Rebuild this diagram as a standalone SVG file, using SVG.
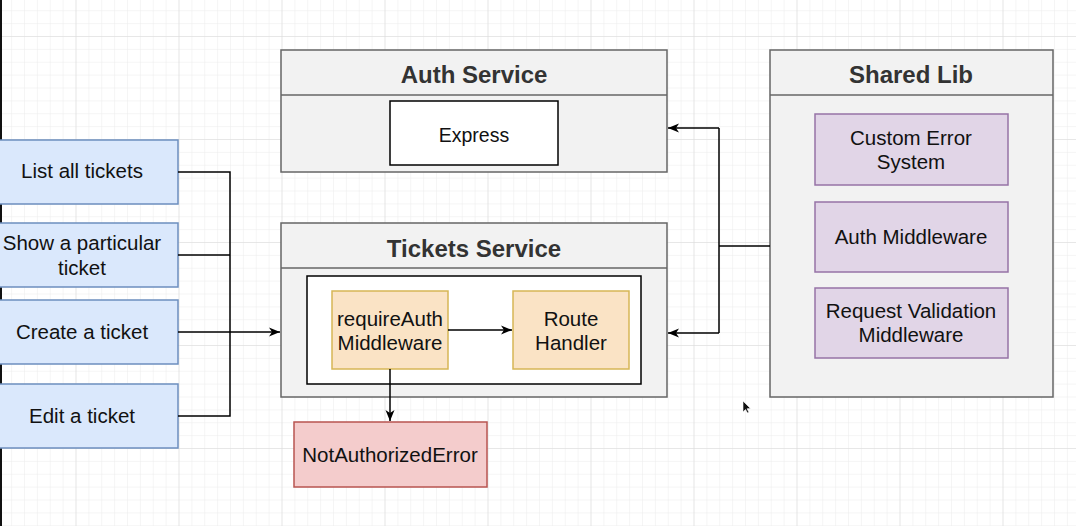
<svg xmlns="http://www.w3.org/2000/svg" width="1076" height="526" viewBox="0 0 1076 526">
<defs>
<pattern id="minor" x="-27.5" y="36" width="12.875" height="12.875" patternUnits="userSpaceOnUse">
<path d="M0 0H12.875M0 0V12.875" fill="none" stroke="#ececec" stroke-width="1"/>
</pattern>
<pattern id="major" x="-27.5" y="36" width="103" height="103" patternUnits="userSpaceOnUse">
<path d="M0 0H103M0 0V103" fill="none" stroke="#d9d9d9" stroke-width="1"/>
</pattern>
<marker id="arr" markerWidth="12" markerHeight="12" refX="11" refY="6" orient="auto" markerUnits="userSpaceOnUse">
<path d="M0 1.5 L11 6 L0 10.5 L3 6 Z" fill="#000"/>
</marker>
<style>
.t{font-family:"Liberation Sans",Arial,sans-serif;font-size:20.5px;fill:#111;text-anchor:middle}
.h{font-family:"Liberation Sans",Arial,sans-serif;font-size:24px;font-weight:bold;fill:#333;text-anchor:middle}
.blue{fill:#dae8fc;stroke:#6c8ebf;stroke-width:1.5}
.grey{fill:#f2f2f2;stroke:#666;stroke-width:1.5}
.white{fill:#fff;stroke:#000;stroke-width:1.5}
.orange{fill:#fae3c5;stroke:#d6b656;stroke-width:1.5}
.red{fill:#f4cccc;stroke:#b85450;stroke-width:1.5}
.purple{fill:#e1d5e7;stroke:#9673a6;stroke-width:1.5}
.c{fill:none;stroke:#000;stroke-width:1.5}
</style>
</defs>
<rect width="1076" height="526" fill="#fff"/>
<rect width="1076" height="526" fill="url(#minor)"/>
<rect width="1076" height="526" fill="url(#major)"/>
<rect x="0" y="0" width="2" height="526" fill="#111"/>

<g id="list-all">
<rect class="blue" x="-2" y="140" width="180" height="64"/>
<text class="t" x="82" y="178">List all tickets</text>
</g>
<g id="show-ticket">
<rect class="blue" x="-2" y="223" width="180" height="64"/>
<text class="t" x="82" y="250">Show a particular</text>
<text class="t" x="82" y="275">ticket</text>
</g>
<g id="create-ticket">
<rect class="blue" x="-2" y="300" width="180" height="64"/>
<text class="t" x="82" y="339">Create a ticket</text>
</g>
<g id="edit-ticket">
<rect class="blue" x="-2" y="384" width="180" height="64"/>
<text class="t" x="82" y="423">Edit a ticket</text>
</g>

<g id="auth-service">
<rect class="grey" x="281" y="50" width="386" height="122"/>
<line x1="281" y1="95" x2="667" y2="95" stroke="#666" stroke-width="1.5"/>
<text class="h" x="474" y="83">Auth Service</text>
</g>
<g id="express">
<rect class="white" x="390" y="101" width="168" height="64"/>
<text class="t" x="474" y="142" style="font-size:19.5px">Express</text>
</g>

<g id="tickets-service">
<rect class="grey" x="281" y="223" width="386" height="174"/>
<line x1="281" y1="268" x2="667" y2="268" stroke="#666" stroke-width="1.5"/>
<text class="h" x="474" y="257">Tickets Service</text>
<rect class="white" x="307" y="276" width="334" height="108"/>
</g>
<g id="require-auth">
<rect class="orange" x="332" y="291" width="116" height="78"/>
<text class="t" x="390" y="326">requireAuth</text>
<text class="t" x="390" y="350">Middleware</text>
</g>
<g id="route-handler">
<rect class="orange" x="513" y="291" width="116" height="78"/>
<text class="t" x="571" y="326">Route</text>
<text class="t" x="571" y="350">Handler</text>
</g>
<g id="not-authorized">
<rect class="red" x="294" y="422" width="193" height="65"/>
<text class="t" x="390" y="462">NotAuthorizedError</text>
</g>

<g id="shared-lib">
<rect class="grey" x="770" y="50" width="283" height="347"/>
<line x1="770" y1="95" x2="1053" y2="95" stroke="#666" stroke-width="1.5"/>
<text class="h" x="911" y="83">Shared Lib</text>
</g>
<g id="custom-error">
<rect class="purple" x="815" y="114" width="193" height="71"/>
<text class="t" x="911" y="145">Custom Error</text>
<text class="t" x="911" y="169">System</text>
</g>
<g id="auth-middleware">
<rect class="purple" x="815" y="202" width="193" height="70"/>
<text class="t" x="911" y="244">Auth Middleware</text>
</g>
<g id="request-validation">
<rect class="purple" x="815" y="288" width="193" height="70"/>
<text class="t" x="911" y="318">Request Validation</text>
<text class="t" x="911" y="342">Middleware</text>
</g>

<g id="connectors">
<path class="c" d="M178 172H230V416H178"/>
<path class="c" d="M178 255H230"/>
<path class="c" d="M178 332H280" marker-end="url(#arr)"/>
<path class="c" d="M448 330H512" marker-end="url(#arr)"/>
<path class="c" d="M390 369V421" marker-end="url(#arr)"/>
<path class="c" d="M770 246H719"/>
<path class="c" d="M719 128V333"/>
<path class="c" d="M719 128H668" marker-end="url(#arr)"/>
<path class="c" d="M719 333H668" marker-end="url(#arr)"/>
</g>
<path d="M743 401 L743 412 L745.5 409.5 L747.5 413 L749 412.3 L747 408.8 L750.5 408.5 Z" fill="#111" stroke="#fff" stroke-width="0.6"/>
</svg>
